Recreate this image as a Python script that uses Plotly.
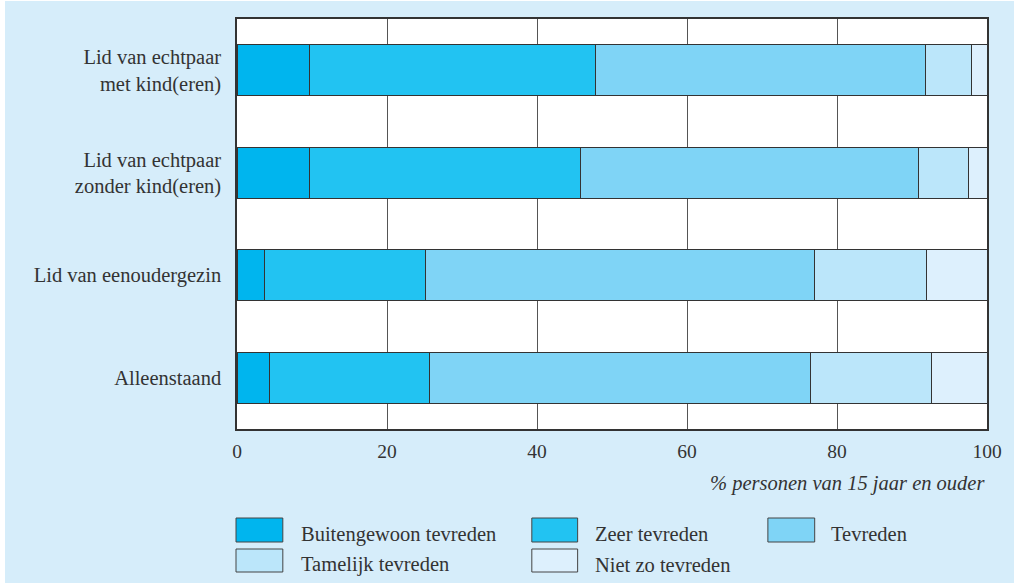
import plotly.graph_objects as go

categories = ["Lid van echtpaar<br>met kind(eren)", "Lid van echtpaar<br>zonder kind(eren)",
              "Lid van eenoudergezin", "Alleenstaand"]
series_names = ["Buitengewoon tevreden", "Zeer tevreden", "Tevreden",
                "Tamelijk tevreden", "Niet zo tevreden"]
buitengewoon = [9.7, 9.7, 3.6, 4.3]
zeer = [38.1, 36.1, 21.5, 21.4]
tevreden = [44.0, 45.0, 51.9, 50.8]
tamelijk = [6.1, 6.7, 14.9, 16.1]
niet_zo = [2.1, 2.5, 8.1, 7.4]
x_ticks = [0, 20, 40, 60, 80, 100]
x_title = "% personen van 15 jaar en ouder"

series_values = [buitengewoon, zeer, tevreden, tamelijk, niet_zo]
colors = ["#00B5EE", "#22C3F2", "#7FD4F6", "#BBE6FA", "#DDF0FD"]

OX, OY = 5, 1  # page offset of the figure
W, H = 1014 - OX, 583 - OY
L, R, T, B = 237 - OX, 990 - OX, 19 - OY, 429 - OY
FONT = "'Liberation Serif', 'Times New Roman', 'DejaVu Serif', serif"
TXT = "#333333"
FS = 20.5

fig = go.Figure()
for name, vals, col in zip(series_names, series_values, colors):
    fig.add_trace(go.Bar(
        y=categories, x=vals, name=name, orientation="h",
        marker=dict(color=col, line=dict(color="#333333", width=1)),
        showlegend=False,
    ))

def px_x(p):
    return (p - OX - L) / (R - L)

def px_y(p):
    return (B - (p - OY)) / (B - T)

shapes = []
annotations = []
legend_cols = [(236, 283, 299), (533, 579, 594), (770, 817, 831)]
legend_rows = [(518, 542), (549, 572)]
for i, (name, col) in enumerate(zip(series_names, colors)):
    r, c = divmod(i, 3)
    x0, x1, tx = legend_cols[c]
    y0, y1 = legend_rows[r]
    shapes.append(dict(type="rect", xref="paper", yref="paper",
                       x0=px_x(x0), x1=px_x(x1), y0=px_y(y1), y1=px_y(y0),
                       fillcolor=col, line=dict(color="#444444", width=1)))
    annotations.append(dict(text=name, xref="paper", yref="paper",
                            x=px_x(tx), y=px_y((y0 + y1) / 2 + 4), xanchor="left", yanchor="middle",
                            showarrow=False, font=dict(family=FONT, size=FS, color=TXT)))

annotations.append(dict(text="<i>" + x_title + "</i>", xref="paper", yref="paper",
                        x=1, y=px_y(483), xanchor="right", yanchor="middle", showarrow=False,
                        font=dict(family=FONT, size=FS, color=TXT)))

fig.update_layout(
    barmode="stack",
    bargap=0.5,
    width=W, height=H,
    margin=dict(l=L, r=W - R, t=T, b=H - B),
    paper_bgcolor="#D6EDFA",
    plot_bgcolor="#FFFFFF",
    shapes=shapes,
    annotations=annotations,
    font=dict(family=FONT, size=FS, color=TXT),
)
fig.update_xaxes(range=[0, 100], tickvals=x_ticks, ticktext=[str(v) for v in x_ticks],
                 showgrid=True, gridcolor="#555555", gridwidth=1,
                 showline=True, linecolor="#333333", linewidth=1.5, mirror=True,
                 ticks="", ticklabelstandoff=4, zeroline=False,
                 tickfont=dict(family=FONT, size=19.5, color=TXT))
fig.update_yaxes(categoryorder="array", categoryarray=categories, autorange="reversed",
                 showline=True, linecolor="#333333", linewidth=1.5, mirror=True,
                 showgrid=False, ticks="", ticklabelstandoff=10,
                 tickfont=dict(family=FONT, size=FS, color=TXT))

fig.write_html("out.html",
               post_script="document.body.style.margin='%dpx 0 0 %dpx';document.body.style.overflow='hidden';" % (OY, OX))
